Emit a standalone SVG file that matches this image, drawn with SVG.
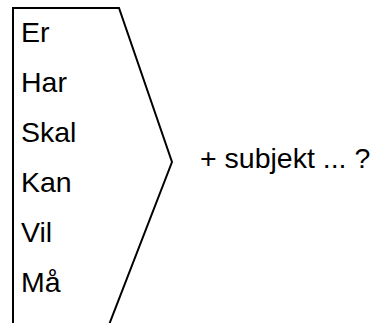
<svg xmlns="http://www.w3.org/2000/svg" width="381" height="323" viewBox="0 0 381 323">
<style>
.t{font-family:"Liberation Sans",Arial,sans-serif;font-size:28.5px;fill:#000}
.s{fill:none;stroke:#000;stroke-width:2}
</style>
<rect width="381" height="323" fill="#fff"/>
<g id="bracket">
<polyline class="s" points="13,330 13,8 119,8 172,162 107,330"/>
</g>
<g id="verbs">
<text class="t" x="21" y="42">Er</text>
<text class="t" x="21" y="92">Har</text>
<text class="t" x="21" y="142">Skal</text>
<text class="t" x="21" y="192">Kan</text>
<text class="t" x="21" y="242">Vil</text>
<text class="t" x="21" y="292">Må</text>
</g>
<g id="label">
<text class="t" x="200" y="168">+ subjekt ... ?</text>
</g>
</svg>
